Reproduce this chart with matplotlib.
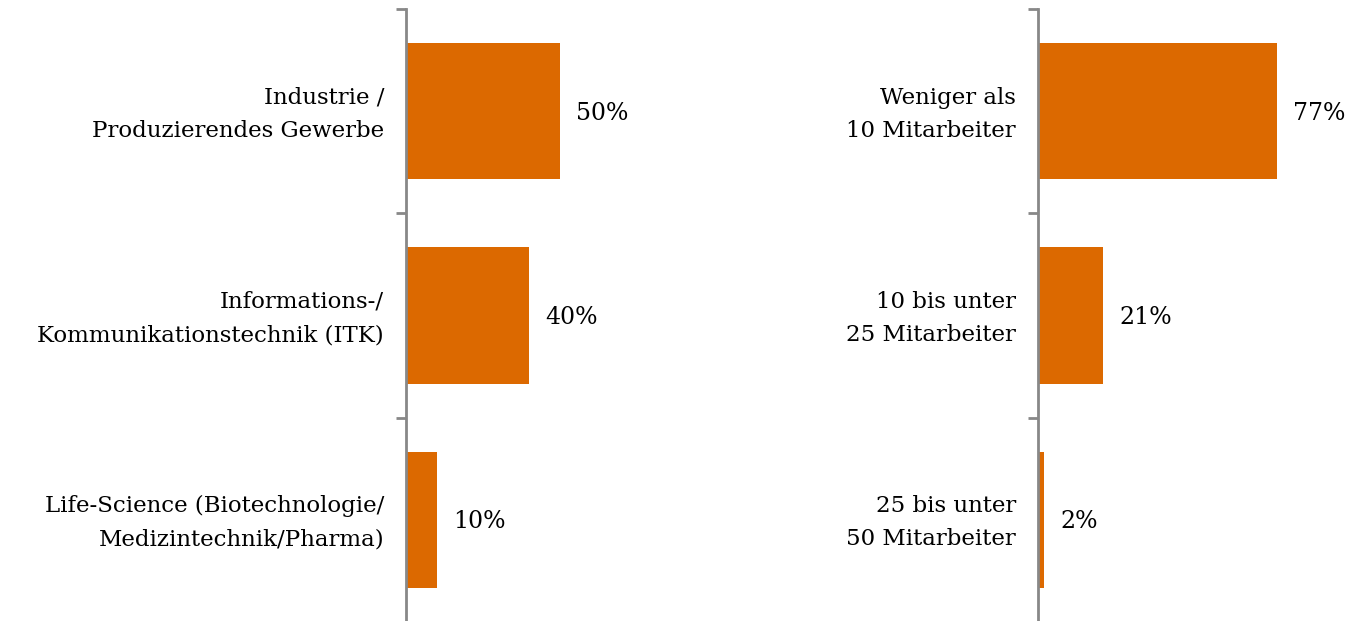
import matplotlib.pyplot as plt

# Daten
branchen = ['Industrie /\nProduzierendes Gewerbe',
            'Informations-/\nKommunikationstechnik (ITK)',
            'Life-Science (Biotechnologie/\nMedizintechnik/Pharma)']
branchen_werte = [50, 40, 10]

groessen = ['Weniger als\n10 Mitarbeiter',
            '10 bis unter\n25 Mitarbeiter',
            '25 bis unter\n50 Mitarbeiter']
groessen_werte = [77, 21, 2]

orange = '#DC6900'
grau = '#888888'

plt.rcParams['font.family'] = ['DejaVu Serif']

W, H = 1349, 621
fig = plt.figure(figsize=(W / 100, H / 100), dpi=100)


def panel(x0, px_pro_prozent, kategorien, werte):
    breite = 300
    ax = fig.add_axes([x0 / W, (H - 622) / H, breite / W, 613 / H])
    y = [2.5 - i for i in range(len(werte))]
    ax.barh(y, werte, height=0.667, color=orange)
    ax.set_xlim(0, breite / px_pro_prozent)
    ax.set_ylim(0, 3)
    for s in ['top', 'right', 'bottom']:
        ax.spines[s].set_visible(False)
    ax.spines['left'].set_color(grau)
    ax.spines['left'].set_linewidth(2)
    ax.set_xticks([])
    ax.set_yticks([0, 1, 2, 3])
    ax.set_yticklabels([])
    ax.tick_params(axis='y', length=7, width=2, color=grau)
    for yy, kat, w in zip(y, kategorien, werte):
        ax.annotate(kat, (0, yy), xytext=(-22, -3), textcoords='offset pixels',
                    ha='right', va='center', fontsize=16.5, linespacing=1.65)
        ax.annotate(f'{w}%', (w, yy), xytext=(16, -2), textcoords='offset pixels',
                    ha='left', va='center', fontsize=17)
    return ax


panel(406, 3.08, branchen, branchen_werte)
panel(1038, 3.11, groessen, groessen_werte)

fig.savefig('out.png', dpi=100)
